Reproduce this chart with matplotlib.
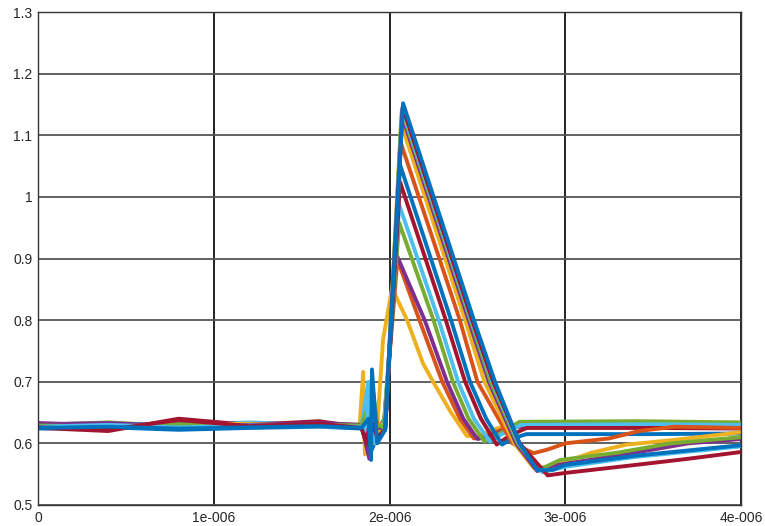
import matplotlib

matplotlib.use("Agg")

import matplotlib.pyplot as plt

# MATLAB default line colours
C_BLUE = "#0072BD"
C_ORANGE = "#D95319"
C_YELLOW = "#EDB120"
C_PURPLE = "#7E2F8E"
C_GREEN = "#77AC30"
C_LBLUE = "#4DBEEE"
C_RED = "#A2142F"

# keypoints of each trace, time in microseconds (smallest pulse first)
colors = [C_YELLOW, C_ORANGE, C_PURPLE, C_GREEN, C_LBLUE, C_RED, C_BLUE,
          C_ORANGE, C_YELLOW, C_PURPLE, C_GREEN, C_LBLUE, C_RED, C_BLUE]

times = [
    [0, 0.4, 0.8, 1.2, 1.6, 1.83, 1.85, 1.86, 1.875, 1.90, 1.93, 1.963, 2.014, 2.10, 2.19, 2.248, 2.35, 2.44, 2.50, 2.62, 3.0, 3.5, 4.0],
    [0, 0.4, 0.8, 1.2, 1.6, 1.84, 1.87, 1.90, 1.93, 1.97, 2.045, 2.17, 2.30, 2.40, 2.48, 2.55, 2.68, 3.2, 4.0],
    [0, 0.4, 0.8, 1.2, 1.6, 1.84, 1.885, 1.90, 1.93, 1.97, 2.04, 2.20, 2.327, 2.42, 2.50, 2.58, 2.70, 3.3, 4.0],
    [0, 0.4, 0.8, 1.2, 1.6, 1.84, 1.87, 1.90, 1.94, 1.97, 2.055, 2.25, 2.36, 2.45, 2.54, 2.62, 2.74, 3.4, 4.0],
    [0, 0.4, 0.8, 1.2, 1.6, 1.84, 1.88, 1.90, 1.94, 1.97, 2.055, 2.28, 2.39, 2.48, 2.57, 2.64, 2.75, 3.5, 4.0],
    [0, 0.4, 0.8, 1.2, 1.6, 1.84, 1.87, 1.90, 1.94, 1.975, 2.06, 2.32, 2.43, 2.52, 2.61, 2.68, 2.78, 3.5, 4.0],
    [0, 0.4, 0.8, 1.2, 1.6, 1.84, 1.87, 1.90, 1.94, 1.975, 2.06, 2.35, 2.458, 2.55, 2.64, 2.70, 2.78, 3.5, 4.0],
    [0, 0.4, 0.8, 1.2, 1.6, 1.84, 1.88, 1.91, 1.95, 1.975, 2.065, 2.40, 2.50, 2.70, 2.82, 2.90, 3.0, 3.25, 3.42, 3.62, 4.0],
    [0, 0.4, 0.8, 1.2, 1.6, 1.84, 1.88, 1.91, 1.95, 1.975, 2.065, 2.43, 2.54, 2.71, 2.82, 2.92, 3.15, 3.35, 3.6, 4.0],
    [0, 0.4, 0.8, 1.2, 1.6, 1.84, 1.87, 1.885, 1.92, 1.975, 2.07, 2.45, 2.565, 2.72, 2.84, 2.96, 3.4, 3.7, 4.0],
    [0, 0.4, 0.8, 1.2, 1.6, 1.84, 1.88, 1.90, 1.93, 1.975, 2.07, 2.46, 2.575, 2.73, 2.85, 2.97, 3.3, 3.6, 4.0],
    [0, 0.4, 0.8, 1.2, 1.6, 1.84, 1.87, 1.88, 1.92, 1.975, 2.072, 2.465, 2.585, 2.735, 2.87, 3.0, 3.4, 4.0],
    [0, 0.4, 0.8, 1.2, 1.6, 1.84, 1.87, 1.89, 1.93, 1.975, 2.075, 2.47, 2.59, 2.74, 2.90, 3.0, 3.4, 3.7, 4.0],
    [0, 0.4, 0.8, 1.2, 1.6, 1.84, 1.88, 1.895, 1.90, 1.93, 1.975, 2.077, 2.48, 2.60, 2.74, 2.84, 2.93, 3.0, 3.4, 4.0],
]

values = [
    [0.632, 0.628, 0.634, 0.630, 0.632, 0.630, 0.716, 0.582, 0.640, 0.620, 0.625, 0.768, 0.852, 0.800, 0.730, 0.700, 0.650, 0.612, 0.612, 0.625, 0.630, 0.632, 0.630],
    [0.627, 0.630, 0.626, 0.631, 0.628, 0.628, 0.610, 0.650, 0.620, 0.640, 0.898, 0.800, 0.700, 0.640, 0.608, 0.612, 0.627, 0.630, 0.628],
    [0.633, 0.629, 0.632, 0.627, 0.630, 0.630, 0.575, 0.660, 0.615, 0.630, 0.906, 0.800, 0.700, 0.640, 0.607, 0.612, 0.627, 0.629, 0.628],
    [0.630, 0.634, 0.628, 0.632, 0.629, 0.630, 0.620, 0.700, 0.610, 0.640, 0.958, 0.800, 0.700, 0.640, 0.603, 0.615, 0.635, 0.636, 0.634],
    [0.628, 0.632, 0.630, 0.634, 0.631, 0.628, 0.700, 0.600, 0.625, 0.630, 0.987, 0.800, 0.700, 0.640, 0.603, 0.615, 0.630, 0.631, 0.630],
    [0.625, 0.620, 0.640, 0.630, 0.636, 0.626, 0.600, 0.640, 0.615, 0.625, 1.024, 0.800, 0.700, 0.640, 0.598, 0.612, 0.625, 0.625, 0.624],
    [0.624, 0.626, 0.622, 0.625, 0.627, 0.624, 0.640, 0.590, 0.620, 0.622, 1.052, 0.800, 0.700, 0.640, 0.598, 0.608, 0.615, 0.615, 0.616],
    [0.628, 0.625, 0.630, 0.627, 0.629, 0.627, 0.610, 0.645, 0.620, 0.625, 1.087, 0.800, 0.700, 0.600, 0.584, 0.590, 0.600, 0.608, 0.620, 0.627, 0.625],
    [0.630, 0.627, 0.629, 0.632, 0.628, 0.629, 0.650, 0.600, 0.630, 0.625, 1.120, 0.800, 0.700, 0.600, 0.560, 0.562, 0.585, 0.598, 0.605, 0.618],
    [0.631, 0.633, 0.628, 0.630, 0.633, 0.630, 0.600, 0.640, 0.625, 0.625, 1.133, 0.800, 0.700, 0.600, 0.555, 0.565, 0.585, 0.600, 0.607],
    [0.629, 0.627, 0.631, 0.628, 0.630, 0.629, 0.660, 0.600, 0.630, 0.625, 1.140, 0.800, 0.700, 0.600, 0.557, 0.573, 0.585, 0.600, 0.610],
    [0.627, 0.630, 0.626, 0.629, 0.627, 0.627, 0.620, 0.690, 0.600, 0.622, 1.143, 0.800, 0.700, 0.600, 0.553, 0.562, 0.578, 0.595],
    [0.626, 0.622, 0.638, 0.628, 0.632, 0.625, 0.600, 0.640, 0.610, 0.622, 1.146, 0.800, 0.700, 0.600, 0.548, 0.552, 0.565, 0.575, 0.586],
    [0.625, 0.627, 0.624, 0.626, 0.628, 0.625, 0.640, 0.573, 0.720, 0.600, 0.622, 1.152, 0.800, 0.700, 0.600, 0.557, 0.557, 0.565, 0.580, 0.597],
]

x_ticks = [0, 1e-6, 2e-6, 3e-6, 4e-6]
x_ticklabels = ["0", "1e-006", "2e-006", "3e-006", "4e-006"]
y_ticks = [0.5, 0.6, 0.7, 0.8, 0.9, 1.0, 1.1, 1.2, 1.3]
y_ticklabels = ["0.5", "0.6", "0.7", "0.8", "0.9", "1", "1.1", "1.2", "1.3"]

plt.rcParams["font.family"] = ["Liberation Sans", "DejaVu Sans"]

fig = plt.figure(figsize=(7.65, 5.26), dpi=100)
ax = fig.add_axes([0.0497, 0.040, 0.919, 0.937])

for t, v, c in zip(times, values, colors):
    ax.plot([ti * 1e-6 for ti in t], v, color=c, linewidth=2.8, solid_joinstyle="round")

ax.set_xlim(0, 4e-6)
ax.set_ylim(0.5, 1.3)
ax.set_xticks(x_ticks)
ax.set_xticklabels(x_ticklabels)
ax.set_yticks(y_ticks)
ax.set_yticklabels(y_ticklabels)
ax.tick_params(length=0, labelsize=10, colors="#262626", pad=4)
ax.set_axisbelow(True)
ax.xaxis.grid(True, color="#111111", linewidth=1.3)
ax.yaxis.grid(True, color="#555555", linewidth=1.3)
for s in ax.spines.values():
    s.set_color("#333333")
    s.set_linewidth(1.0)

fig.savefig("out.png", dpi=100)
plt.close(fig)
